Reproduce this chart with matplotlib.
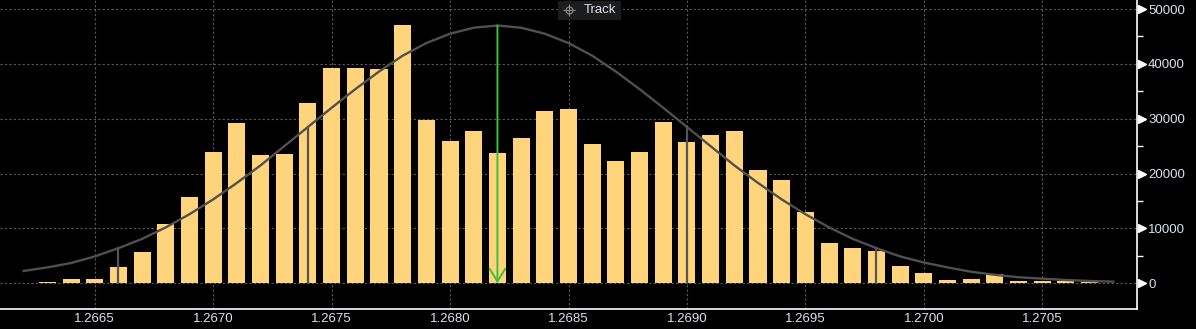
import matplotlib
matplotlib.use('Agg')
import matplotlib.pyplot as plt
import matplotlib.transforms as mtransforms
from matplotlib.patches import Rectangle

# price bins (bar centres)
prices = [1.2662, 1.2663, 1.2664, 1.2665, 1.2666, 1.2667, 1.2668, 1.2669, 1.2670, 1.2671,
          1.2672, 1.2673, 1.2674, 1.2675, 1.2676, 1.2677, 1.2678, 1.2679, 1.2680, 1.2681,
          1.2682, 1.2683, 1.2684, 1.2685, 1.2686, 1.2687, 1.2688, 1.2689, 1.2690, 1.2691,
          1.2692, 1.2693, 1.2694, 1.2695, 1.2696, 1.2697, 1.2698, 1.2699, 1.2700, 1.2701,
          1.2702, 1.2703, 1.2704, 1.2705, 1.2706, 1.2707, 1.2708]
# volume per bin
volume = [100, 300, 800, 800, 3000, 5700, 10800, 15750, 23950, 29250,
          23400, 23600, 32900, 39300, 39300, 39100, 47100, 29800, 25950, 27800,
          23750, 26500, 31450, 31800, 25400, 22300, 23950, 29450, 25800, 27050,
          27800, 20700, 18850, 13000, 7350, 6450, 5900, 3150, 1900, 600,
          800, 1700, 450, 450, 450, 300, 100]
# fitted curve, read at each bin
curve = [2250, 2900, 3700, 4900, 6400, 8100, 10200, 12600, 15300, 18300,
         21500, 25000, 28500, 32000, 35400, 38600, 41500, 43800, 45500, 46600,
         47000, 46600, 45500, 43800, 41500, 38600, 35400, 32000, 28500, 25000,
         21500, 18300, 15300, 12600, 10200, 8100, 6400, 4900, 3800, 2900,
         2100, 1550, 1100, 850, 600, 420, 300]
# sigma markers
sigma_x = [1.2666, 1.2674, 1.2690, 1.2698]
sigma_y = [6400, 28500, 28500, 6400]
mean_x = 1.2682
mean_y = 47000

xticks = [1.2665, 1.2670, 1.2675, 1.2680, 1.2685, 1.2690, 1.2695, 1.2700, 1.2705]
yticks = [0, 10000, 20000, 30000, 40000, 50000]

plt.rcParams['font.family'] = ['Liberation Sans', 'DejaVu Sans']
txt_col = '#d8e2ee'
grid_col = '#5a5a5a'

fig = plt.figure(figsize=(11.96, 3.29), dpi=100, facecolor='black')
ax = fig.add_axes([0, 20 / 329, 1137 / 1196, 309 / 329])
ax.set_facecolor('black')

ax.bar(prices, volume, width=0.000072, color='#ffd47a', zorder=2)
ax.plot(prices, curve, color='#505050', lw=1.7, zorder=3)
for sx, sy in zip(sigma_x, sigma_y):
    ax.plot([sx, sx], [0, sy], color='#555555', lw=1.6, zorder=3)
ax.annotate('', xy=(mean_x, 0), xytext=(mean_x, mean_y),
            arrowprops=dict(arrowstyle='->,head_length=0.65,head_width=0.4', color='#3cc03c',
                            lw=1.4, mutation_scale=14, shrinkA=0, shrinkB=0), zorder=4)

ax.set_xlim(1.26610, 1.27090)
ax.set_ylim(-4685, 51650)
ax.set_xticks(xticks)
ax.set_xticklabels(['%.4f' % v for v in xticks])
ax.set_yticks(yticks)
ax.set_yticks([5000, 15000, 25000, 35000, 45000], minor=True)
ax.yaxis.tick_right()
ax.tick_params(axis='x', length=0, pad=3, labelsize=9.5, colors=txt_col)
ax.tick_params(axis='y', which='major', length=0, pad=8, labelsize=9.5, colors=txt_col)
ax.tick_params(axis='y', which='minor', length=4, width=1, color='white', direction='out')
ax.grid(True, color=grid_col, linestyle=(0, (2, 2)), lw=0.8, zorder=1)
ax.set_axisbelow(True)

for side in ['top', 'left']:
    ax.spines[side].set_visible(False)
for side in ['bottom', 'right']:
    ax.spines[side].set_color('white')
    ax.spines[side].set_linewidth(1.2)

# triangle tick marks on the right axis
trans = mtransforms.blended_transform_factory(ax.transAxes, ax.transData)
ax.plot([1.004] * len(yticks), yticks, linestyle='none', marker='>', markersize=5.5,
        color='white', transform=trans, clip_on=False, zorder=5)

# "Track" tag at top
ax.add_patch(Rectangle((558 / 1137, 1 - 20 / 309), 63 / 1137, 19 / 309, transform=ax.transAxes,
                       facecolor='#1c1c1c', edgecolor='none', zorder=6, clip_on=False))
ax.text(600 / 1137, 1 - 10 / 309, 'Track', transform=ax.transAxes, color=txt_col, fontsize=9.5,
        ha='center', va='center', zorder=7)
ax.plot([569 / 1137], [1 - 10 / 309], marker='o', markersize=5, mfc='none', mec='#8a8a8a', mew=0.8,
        transform=ax.transAxes, zorder=7, clip_on=False)
ax.plot([569 / 1137], [1 - 10 / 309], marker='+', markersize=9, color='#8a8a8a', mew=0.8,
        transform=ax.transAxes, zorder=7, clip_on=False)

fig.savefig('out.png', dpi=100, facecolor='black')
